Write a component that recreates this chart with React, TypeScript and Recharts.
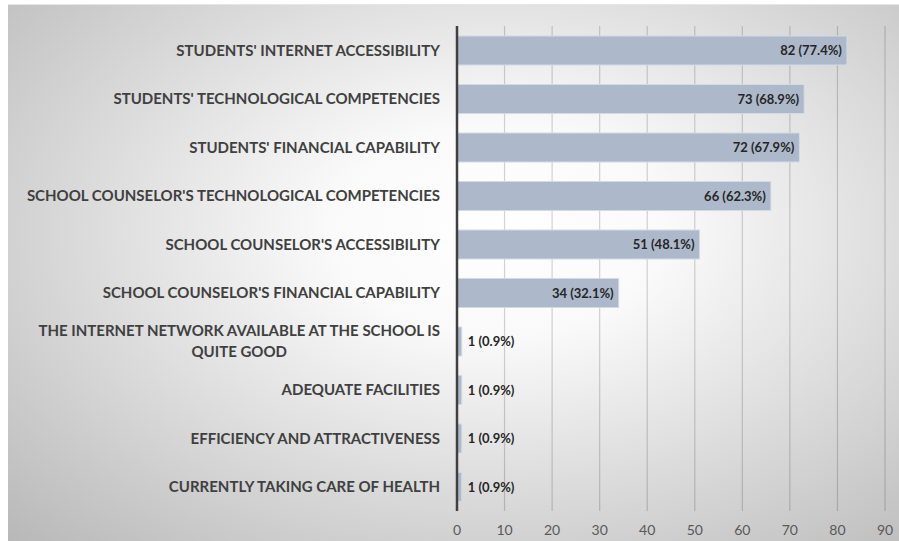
import React, { useLayoutEffect, useRef, useState } from "react";
import { BarChart, Bar, XAxis, YAxis, CartesianGrid, LabelList } from "recharts";

const categories = [
  "STUDENTS' INTERNET ACCESSIBILITY",
  "STUDENTS' TECHNOLOGICAL COMPETENCIES",
  "STUDENTS' FINANCIAL CAPABILITY",
  "SCHOOL COUNSELOR'S TECHNOLOGICAL COMPETENCIES",
  "SCHOOL COUNSELOR'S ACCESSIBILITY",
  "SCHOOL COUNSELOR'S FINANCIAL CAPABILITY",
  "THE INTERNET NETWORK AVAILABLE AT THE SCHOOL IS QUITE GOOD",
  "ADEQUATE FACILITIES",
  "EFFICIENCY AND ATTRACTIVENESS",
  "CURRENTLY TAKING CARE OF HEALTH",
];
const counts = [82, 73, 72, 66, 51, 34, 1, 1, 1, 1];
const percents = ["77.4", "68.9", "67.9", "62.3", "48.1", "32.1", "0.9", "0.9", "0.9", "0.9"];
const xTicks = [0, 10, 20, 30, 40, 50, 60, 70, 80, 90];

const data = categories.map((name, i) => ({
  name,
  value: counts[i],
  label: `${counts[i]} (${percents[i]}%)`,
}));

const LABEL_FONT = "Lato, 'Open Sans', sans-serif";
const CAT_SIZE = 15;

function wrap(text: string, max = 48) {
  const words = text.split(" ");
  const lines: string[] = [];
  let cur = "";
  words.forEach((w) => {
    const next = cur ? cur + " " + w : w;
    if (next.length > max && cur) {
      lines.push(cur);
      cur = w;
    } else cur = next;
  });
  if (cur) lines.push(cur);
  return lines;
}

function CategoryTick(props: any) {
  const { x, y, payload } = props;
  const lines = wrap(payload.value);
  const firstRef = useRef<SVGTextElement>(null);
  const [w, setW] = useState(0);
  useLayoutEffect(() => {
    if (firstRef.current) setW(firstRef.current.getComputedTextLength());
  }, [payload.value]);

  const style = { fill: "#404040", fontSize: CAT_SIZE, fontWeight: "bold" as const, fontFamily: LABEL_FONT };
  const lh = 21;
  const top = y - ((lines.length - 1) * lh) / 2;
  return (
    <g>
      {lines.map((l, i) =>
        i === 0 ? (
          <text key={i} ref={firstRef} x={x} y={top} dy="0.35em" textAnchor="end" {...style}>
            {l}
          </text>
        ) : (
          <text key={i} x={x - w / 2} y={top + i * lh} dy="0.35em" textAnchor="middle" {...style}>
            {l}
          </text>
        )
      )}
    </g>
  );
}

function ValueLabel(props: any) {
  const { x, y, width, height, value } = props;
  const inside = width > 80;
  return (
    <text
      x={inside ? x + width - 5 : x + width + 6}
      y={y + height / 2}
      dy="0.35em"
      textAnchor={inside ? "end" : "start"}
      fill="#262626"
      fontSize={13}
      fontWeight="bold"
      fontFamily={LABEL_FONT}
    >
      {value}
    </text>
  );
}

export default function App() {
  return (
    <div style={{ position: "relative", width: 899, height: 541, background: "#fff", overflow: "hidden" }}>
      <style>{`body { margin: 0; }`}</style>
      <div
        style={{
          position: "absolute",
          left: 8,
          top: 4,
          width: 891,
          height: 537,
          borderTop: "1px solid #e6e6e6",
          boxSizing: "border-box",
          background: "radial-gradient(ellipse farthest-corner at 55% 42%, #ffffff 0%, #fafafa 24%, #b8b8b8 100%)",
        }}
      >
        <BarChart
          width={891}
          height={536}
          data={data}
          layout="vertical"
          margin={{ top: 21, right: 14, left: 0, bottom: 0 }}
        >
          <CartesianGrid horizontal={false} stroke="#000" strokeOpacity={0.17} strokeWidth={1.2} />
          <XAxis
            type="number"
            domain={[0, 90]}
            ticks={xTicks}
            axisLine={false}
            tickLine={false}
            tickSize={0}
            tickMargin={14}
            height={30}
            tick={{ fill: "#595959", fontSize: 14, fontFamily: LABEL_FONT }}
          />
          <YAxis
            type="category"
            dataKey="name"
            width={449}
            axisLine={{ stroke: "#404040", strokeWidth: 2.5 }}
            tickLine={false}
            tickSize={0}
            tickMargin={17}
            interval={0}
            tick={<CategoryTick />}
          />
          <Bar dataKey="value" barSize={29} fill="#adb9ca" stroke="#d3dae5" strokeWidth={1} isAnimationActive={false}>
            <LabelList dataKey="label" content={<ValueLabel />} />
          </Bar>
        </BarChart>
      </div>
    </div>
  );
}
